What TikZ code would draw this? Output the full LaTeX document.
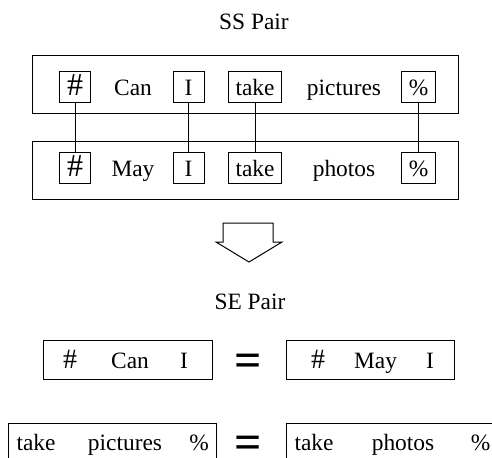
\documentclass[tikz,border=0pt]{standalone}
\usepackage{fontspec}
\setmainfont{Liberation Serif}
\newfontfamily\tnr{Liberation Serif}
\newcommand{\bighash}[1]{{\fontsize{#1}{#1}\selectfont\#}}

\begin{document}
\begin{tikzpicture}[
    x=0.5pt, y=-0.5pt,
    font=\tnr\fontsize{11.7}{14}\selectfont,
    word/.style={inner sep=0pt, anchor=base},
    tok/.style={
        draw, line width=0.5pt, anchor=base,
        minimum width=15.5pt, inner xsep=3.5pt, inner ysep=0pt,
        text height=12pt, text depth=3.5pt,
    },
    sent/.style={draw, line width=0.5pt, minimum width=213pt, minimum height=29pt},
    half/.style={draw, line width=0.5pt, minimum height=19.5pt},
    link/.style={line width=0.5pt},
    eqsign/.style={inner sep=1pt, font=\tnr\fontsize{24}{24}\selectfont\bfseries},
]
\useasboundingbox (0,0) rectangle (492,457);

% ── SS pair ──
\node[word] (sstitle) at (254,29) {SS Pair};

\node[sent] (ssup) at (245,84) {};
\node[sent] (sslow) at (245,170) {};

% upper sentence
\node[tok] (hashA) at (75,95) {\bighash{16}};
\node[word] (can) at (133,95) {Can};
\node[tok] (iA) at (188.5,95) {I};
\node[tok] (takeA) at (255,95) {take};
\node[word] (pictures) at (344,95) {pictures};
\node[tok] (pctA) at (418.5,95) {\%};

% lower sentence
\node[tok] (hashB) at (75,176) {\bighash{16}};
\node[word] (may) at (133,176) {May};
\node[tok] (iB) at (188.5,176) {I};
\node[tok] (takeB) at (255,176) {take};
\node[word] (photos) at (344,176) {photos};
\node[tok] (pctB) at (418.5,176) {\%};

% ── alignment links ──
\draw[link] (hashA) -- (hashB);
\draw[link] (iA) -- (iB);
\draw[link] (takeA) -- (takeB);
\draw[link] (pctA) -- (pctB);

% ── block arrow ──
\draw[line width=0.5pt] (223,223) -- (273,223) -- (273,242) -- (282,242)
    -- (249,262) -- (216,242) -- (223,242) -- cycle;

% ── SE pair ──
\node[word] (setitle) at (250,309) {SE Pair};

% first segment
\node[half, minimum width=84.5pt] (segA) at (127.5,359.5) {};
\node[word] at (70,368) {\bighash{14}};
\node[word] at (130,368) {Can};
\node[word] at (184,368) {I};
\node[eqsign] (eqA) at (248.5,365.5) {=};
\node[half, minimum width=84pt] (segB) at (370,359.5) {};
\node[word] at (318,368) {\bighash{14}};
\node[word] at (375.5,368) {May};
\node[word] at (430,368) {I};

% second segment
\node[half, minimum width=104pt] (segC) at (112,442.5) {};
\node[word] at (36,450) {take};
\node[word] at (125,450) {pictures};
\node[word] at (199,450) {\%};
\node[eqsign] (eqB) at (248.5,447.5) {=};
\node[half, minimum width=104.5pt] (segD) at (390.5,442.5) {};
\node[word] at (314,450) {take};
\node[word] at (403,450) {photos};
\node[word] at (480.5,450) {\%};

\end{tikzpicture}
\end{document}
